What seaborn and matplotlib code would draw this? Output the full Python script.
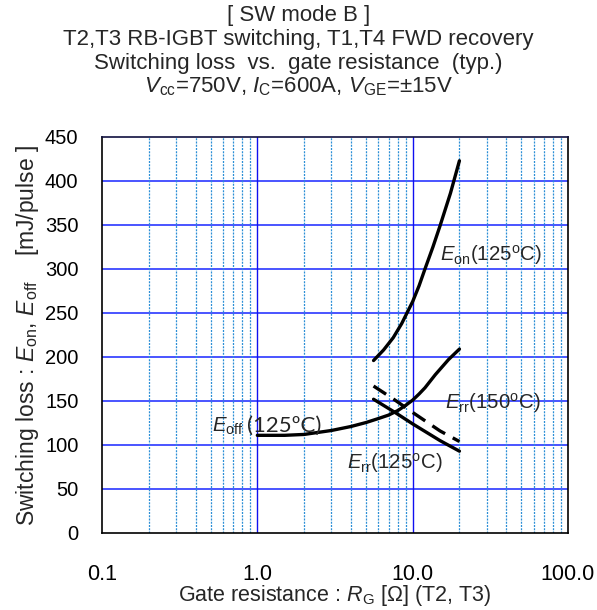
import numpy as np
import pandas as pd
import matplotlib
matplotlib.use("Agg")
import matplotlib.pyplot as plt
from matplotlib.ticker import FixedLocator, NullFormatter, MultipleLocator
import seaborn as sns

# Gate resistance [ohm] and switching energies [mJ/pulse]
rg_eon = [5.6, 6.5, 7.5, 8.5, 10.0, 11.0, 12.0, 13.5, 15.0, 17.5, 20.0]
eon_125 = [196, 208, 222, 238, 263, 281, 300, 325, 349, 386, 423]

rg_eoff = [1.0, 1.5, 2.0, 3.0, 4.0, 5.0, 6.0, 7.0, 8.0, 9.0, 10.0, 11.0, 12.0, 14.0, 17.0, 20.0]
eoff_125 = [111, 111, 112, 116.5, 121, 125.5, 130, 134, 139, 145, 151, 158, 165, 180, 197, 209]

rg_err = [5.6, 7.7, 10.0, 15.0, 20.0]
err_125 = [152, 137, 124, 105, 93]
err_150 = [167, 151, 137, 116, 104]

x_ticks = [0.1, 1.0, 10.0, 100.0]
x_tick_labels = ["0.1", "1.0", "10.0", "100.0"]
y_ticks = list(range(0, 451, 50))

sns.set_style("white")
plt.rcParams["font.family"] = ["Liberation Sans", "DejaVu Sans"]
plt.rcParams["mathtext.fontset"] = "custom"
plt.rcParams["mathtext.rm"] = "Liberation Sans"
plt.rcParams["mathtext.it"] = "Liberation Sans:italic"
plt.rcParams["mathtext.bf"] = "Liberation Sans:bold"

fig = plt.figure(figsize=(5.97, 6.10), dpi=100)
ax = fig.add_axes([102 / 597, 1 - 533 / 610, 466 / 597, 396 / 610])

ax.set_xscale("log")
ax.set_xlim(0.1, 100)
ax.set_ylim(0, 450)

# grid: solid blue decades / 50 mJ steps, dotted blue minor decades
for y in y_ticks[1:-1]:
    ax.axhline(y, color="#3a46ff", lw=1.3, zorder=1)
for x in [1.0, 10.0]:
    ax.axvline(x, color="#1010f0", lw=1.0, zorder=1)
minor_x = [m * d for d in (0.1, 1.0, 10.0) for m in range(2, 10)]
for x in minor_x:
    ax.axvline(x, color="#2b8fd6", lw=0.9, ls=(0, (1.6, 1.0)), zorder=1)

lw = 2.4
sns.lineplot(x=rg_eon, y=eon_125, ax=ax, color="black", lw=lw, zorder=3)
sns.lineplot(x=rg_eoff, y=eoff_125, ax=ax, color="black", lw=lw, zorder=3)
sns.lineplot(x=rg_err, y=err_125, ax=ax, color="black", lw=lw, zorder=3)
ln = sns.lineplot(x=rg_err, y=err_150, ax=ax, color="black", lw=lw, zorder=3)
ln.lines[-1].set_dashes([4.5, 2.6])

ax.xaxis.set_major_locator(FixedLocator(x_ticks))
ax.set_xticklabels(x_tick_labels)
ax.xaxis.set_minor_locator(FixedLocator(minor_x))
ax.xaxis.set_minor_formatter(NullFormatter())
ax.yaxis.set_major_locator(FixedLocator(y_ticks))
ax.yaxis.set_minor_locator(MultipleLocator(10))

ax.tick_params(axis="both", which="both", direction="in", color="black", labelcolor="black")
ax.tick_params(axis="y", which="major", length=6, width=1.2, pad=17, labelsize=14.5)
ax.tick_params(axis="y", which="minor", length=5, width=1.0)
ax.tick_params(axis="x", which="major", length=0, pad=22, labelsize=15.5)
ax.tick_params(axis="x", which="minor", length=5, width=1.0)

for side in ["left", "bottom", "right"]:
    ax.spines[side].set_color("black")
    ax.spines[side].set_linewidth(1.2)
ax.spines["top"].set_color("#101040")
ax.spines["top"].set_linewidth(1.2)

ax.set_xlabel(r"Gate resistance : $\it{R}$$_{\rm G}$ [Ω] (T2, T3)", fontsize=15.5, labelpad=-1)
ax.set_ylabel(r"Switching loss : $\it{E}$$_{\rm on}$, $\it{E}$$_{\rm off}$    [mJ/pulse ]",
              fontsize=16.5, labelpad=3)

title_lines = [
    "[ SW mode B ]",
    "T2,T3 RB-IGBT switching, T1,T4 FWD recovery",
    "Switching loss  vs.  gate resistance  (typ.)",
    r"$\it{V}$$_{\rm cc}$=750V, $\it{I}$$_{\rm C}$=600A, $\it{V}$$_{\rm GE}$=±15V",
]
for i, line in enumerate(title_lines):
    fig.text(0.5, 1 - (16 + i * 23.5) / 610, line, ha="center", va="center", fontsize=16)

lab = 14.7
ax.text(15.0, 316, r"$\it{E}$$_{\rm on}$(125$^{\rm o}$C)", fontsize=lab, va="center", zorder=4)
ax.text(16.2, 148, r"$\it{E}$$_{\rm rr}$(150$^{\rm o}$C)", fontsize=lab, va="center", zorder=4)
ax.text(3.78, 80, r"$\it{E}$$_{\rm rr}$(125$^{\rm o}$C)", fontsize=lab, va="center", zorder=4)
ax.text(0.51, 121, r"$\it{E}$$_{\rm off}$", fontsize=lab, va="center", zorder=4)
ax.text(0.86, 122, "(125ºC)", fontsize=16, va="center", family=["Lato", "DejaVu Sans"], zorder=4)

fig.savefig("out.png", dpi=100, facecolor="white")
